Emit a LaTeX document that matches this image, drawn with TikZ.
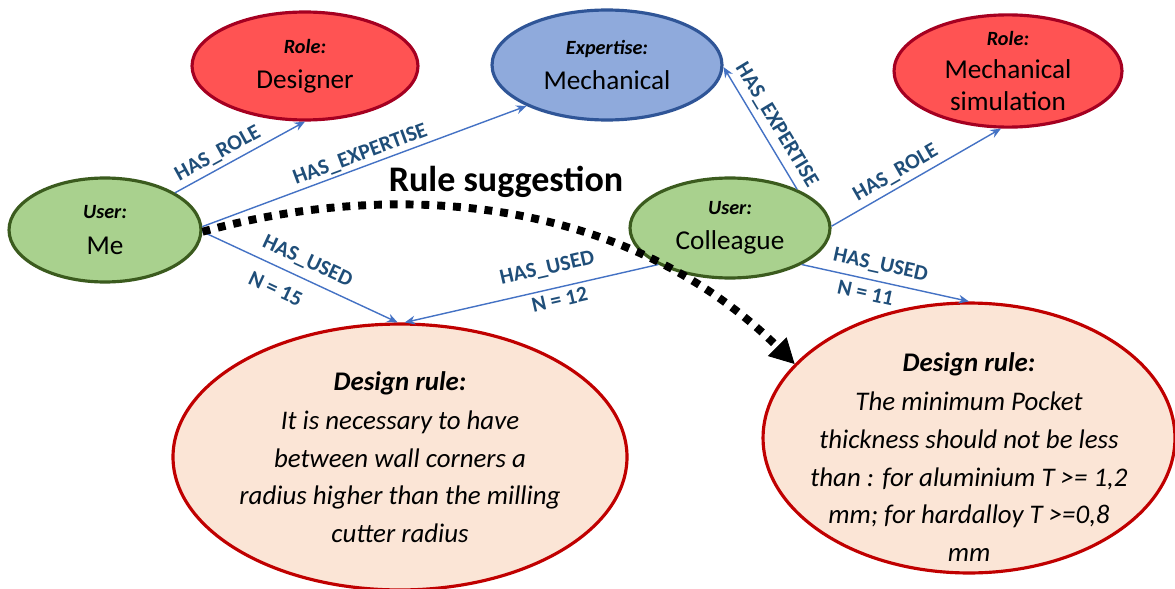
\documentclass[tikz,border=0pt]{standalone}
\usepackage{fontspec}
\setmainfont{Carlito}
\usetikzlibrary{positioning,calc,arrows.meta,shapes.geometric}

\definecolor{usergreen}{HTML}{A9D18E}
\definecolor{userborder}{HTML}{3B5B1E}
\definecolor{rolered}{HTML}{FF5353}
\definecolor{roleborder}{HTML}{A50021}
\definecolor{expblue}{HTML}{8FAADC}
\definecolor{expborder}{HTML}{2F5597}
\definecolor{rulefill}{HTML}{FBE5D6}
\definecolor{ruleborder}{HTML}{C00000}
\definecolor{linkblue}{HTML}{4472C4}
\definecolor{linktext}{HTML}{1F4E79}

\newcommand{\kind}[1]{{\fontsize{11.5}{14}\selectfont\bfseries\itshape #1}}

\begin{document}
\begin{tikzpicture}[x=0.02cm, y=-0.02cm, >={Stealth[length=6pt,width=5pt]},
    entity/.style={ellipse, line width=1.8pt, align=center, inner sep=0pt,
        font=\fontsize{15.5}{18}\selectfont},
    usernode/.style={entity, fill=usergreen, draw=userborder},
    rolenode/.style={entity, fill=rolered, draw=roleborder},
    expnode/.style={entity, fill=expblue, draw=expborder},
    rulenode/.style={ellipse, fill=rulefill, draw=ruleborder, line width=1.8pt,
        inner sep=0pt, align=center, font=\fontsize{15.3}{21.4}\selectfont\itshape},
    relation/.style={->, draw=linkblue, line width=0.8pt},
    reltag/.style={font=\fontsize{12.3}{14}\selectfont\bfseries, text=linktext, sloped, inner sep=1.5pt},
    suggestion/.style={line width=4.5pt, dash pattern=on 4.5pt off 4.5pt,
        -{Triangle[length=14pt,width=15pt,line width=0.5pt]}}]

    \useasboundingbox (0,0) rectangle (1175,588);

    % entities
    \node [usernode, minimum width=3.84cm, minimum height=2.08cm] (me) at (105,230)
        {\kind{User:}\\[2pt] Me};
    \node [usernode, minimum width=4cm, minimum height=2cm] (colleague) at (730,228)
        {\kind{User:}\\[2pt] Colleague};
    \node [rolenode, minimum width=4.52cm, minimum height=2.16cm] (designer) at (305,66)
        {\kind{Role:}\\[2pt] Designer};
    \node [expnode, minimum width=4.6cm, minimum height=2.2cm] (mechanical) at (607,65)
        {\kind{Expertise:}\\[2pt] Mechanical};
    \node [rolenode, minimum width=4.56cm, minimum height=2.2cm] (simulation) at (1008,71)
        {\kind{Role:}\\[1pt] Mechanical\\ simulation};

    % design rules
    \node [rulenode, minimum width=8.32cm, minimum height=5.32cm] (ruleone) at (400,457)
        {{\bfseries Design rule:}\\[1pt] It is necessary to have\\ between wall corners a\\
         radius higher than the milling\\ cutter radius};
    \node [rulenode, minimum width=8.24cm, minimum height=5.4cm] (ruletwo) at (969,438) {};
    \node [align=center, font=\fontsize{15.3}{21.4}\selectfont\itshape] (ruletwotext) at (969,457)
        {{\bfseries Design rule:}\\[1pt] The minimum Pocket\\ thickness should not be less\\
         than : for aluminium T >= 1,2\\ mm; for hardalloy T >=0,8\\ mm};

    % relations of me
    \draw [relation] (me.28) -- node [reltag, above=1pt, pos=.38] {HAS\_ROLE} (designer.south);
    \draw [relation] (me.2) -- node [reltag, above, pos=.5] {HAS\_EXPERTISE} (mechanical.207);
    \draw [relation] (me.-1) -- node [reltag, above=3pt, pos=.5] {HAS\_USED}
        node [reltag, below=6pt, pos=.42] {N = 15} (ruleone.91);

    % relations of colleague
    \draw [relation] (colleague.30) -- node [reltag, above=2pt, pos=.46] {HAS\_EXPERTISE} (mechanical.-1);
    \draw [relation] (colleague.1) -- node [reltag, above=1pt, pos=.42] {HAS\_ROLE} (simulation.-97);
    \draw [relation] (colleague.207) -- node [reltag, above=5pt, pos=.42] {HAS\_USED}
        node [reltag, below=1pt, pos=.4] {N = 12} (ruleone.88);
    \draw [relation] (colleague.-27) -- node [reltag, above=2.5pt, pos=.45] {HAS\_USED}
        node [reltag, below=2pt, pos=.4] {N = 11} (ruletwo.north);

    % suggestion
    \node [font=\fontsize{20.5}{24}\selectfont\bfseries] (suggest) at (506,182) {Rule suggestion};
    \draw [suggestion] (me.-1) .. controls (420,172) and (640,210) .. (ruletwo.157);

\end{tikzpicture}
\end{document}
